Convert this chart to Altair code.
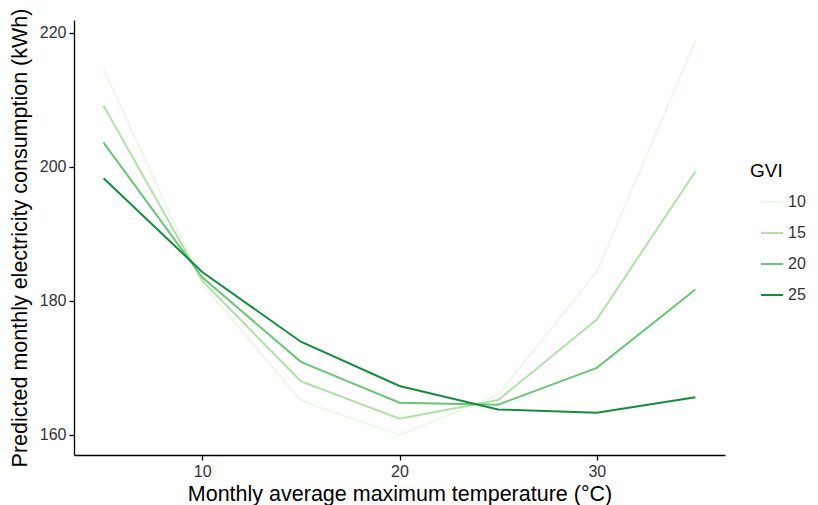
import altair as alt
import pandas as pd

temps = [5, 10, 15, 20, 25, 30, 35]
gvi_10 = [214.6, 182.5, 165.1, 160.0, 166.0, 184.3, 218.8]
gvi_15 = [209.1, 183.0, 168.0, 162.4, 165.2, 177.2, 199.3]
gvi_20 = [203.6, 183.5, 170.9, 164.8, 164.5, 170.0, 181.7]
gvi_25 = [198.3, 184.3, 173.9, 167.3, 163.8, 163.3, 165.6]
gvi_levels = ["10", "15", "20", "25"]
colors = ["#edf8e9", "#b2dfaa", "#6cc47a", "#178a3e"]

rows = []
for lvl, vals in zip(gvi_levels, [gvi_10, gvi_15, gvi_20, gvi_25]):
    for t, v in zip(temps, vals):
        rows.append({"temp": t, "kwh": v, "GVI": lvl})
df = pd.DataFrame(rows)

chart = alt.Chart(df).mark_line(strokeWidth=2).encode(
    x=alt.X("temp:Q", title="Monthly average maximum temperature (°C)",
            scale=alt.Scale(domain=[3.5, 36.5], nice=False, zero=False),
            axis=alt.Axis(values=[10, 20, 30], grid=False, titlePadding=4)),
    y=alt.Y("kwh:Q", title="Predicted monthly electricity consumption (kWh)",
            scale=alt.Scale(domain=[157.0, 221.9], nice=False, zero=False),
            axis=alt.Axis(values=[160, 180, 200, 220], grid=False,
                          titleX=-54, titleY=217.5, titleAngle=270,
                          titleAlign="center", titleBaseline="middle")),
    color=alt.Color("GVI:N", scale=alt.Scale(domain=gvi_levels, range=colors),
                    legend=alt.Legend(orient="none", legendX=676, legendY=142,
                                      symbolType="stroke", symbolSize=484,
                                      symbolStrokeWidth=2, symbolOffset=10,
                                      labelFontSize=16,
                                      titleFontSize=19, titleFontWeight="normal",
                                      titlePadding=9, rowPadding=11,
                                      labelOffset=4)),
    detail="GVI:N",
).properties(
    width=651, height=435,
    autosize=alt.AutoSizeParams(type="none"),
    padding={"left": 66, "top": 12, "right": 85, "bottom": 50},
).configure_view(stroke=None).configure_axis(
    domainColor="black", domainWidth=1.3, tickColor="black", tickSize=5,
    tickWidth=1.3, labelFontSize=16, labelColor="#333333", labelFont="Liberation Sans",
    titleFont="Liberation Sans", titleFontSize=21.5, titleFontWeight="normal",
    titleColor="black", labelPadding=3,
).configure_legend(
    labelFont="Liberation Sans", titleFont="Liberation Sans", labelColor="#333333",
    titleColor="black",
)

chart.save("out.html", embed_options={"renderer": "svg", "actions": False})
